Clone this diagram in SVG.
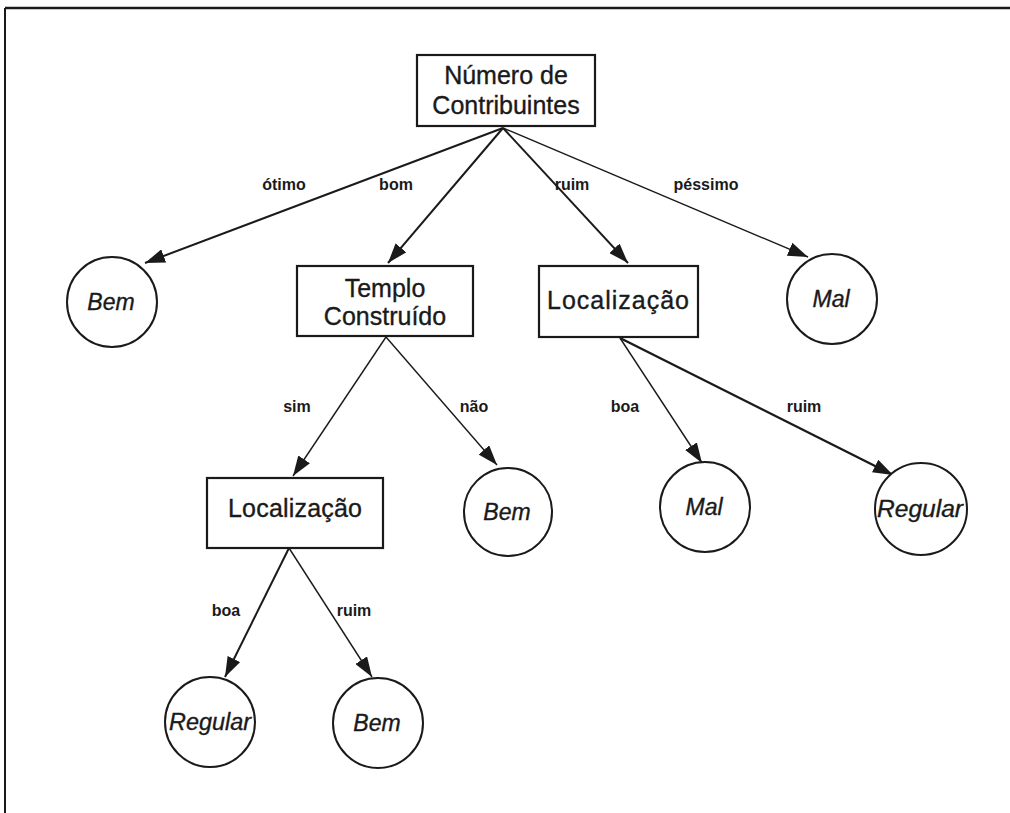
<svg xmlns="http://www.w3.org/2000/svg" width="1010" height="813" viewBox="0 0 1010 813">
<style>
.box{fill:#fff;stroke:#1a1a1a;stroke-width:2.2}
.leaf{fill:#fff;stroke:#1a1a1a;stroke-width:2}
.nt{font-family:"Liberation Sans",Arial,sans-serif;font-size:25px;fill:#1a1a1a;stroke:#1a1a1a;stroke-width:0.35;text-anchor:middle}
.lt{font-family:"Liberation Sans",Arial,sans-serif;font-size:23px;font-style:italic;fill:#1a1a1a;stroke:#1a1a1a;stroke-width:0.35;text-anchor:middle}
.el{font-family:"Liberation Sans",Arial,sans-serif;font-size:16px;font-weight:bold;fill:#1a1a1a;text-anchor:middle}
.e{stroke:#1a1a1a;stroke-width:2;fill:none;marker-end:url(#ah)}
.thin{stroke-width:1.4}
</style>
<defs>
<marker id="ah" markerUnits="userSpaceOnUse" markerWidth="20" markerHeight="14" viewBox="0 0 20 14" refX="20" refY="7" orient="auto">
<path d="M0,0 L20,7 L0,14 Z" fill="#1a1a1a"/>
</marker>
</defs>
<rect width="1010" height="813" fill="#fff"/>
<g id="frame">
<line x1="5" y1="8" x2="1010" y2="8" stroke="#1a1a1a" stroke-width="2.5"/>
<line x1="5" y1="8" x2="5" y2="813" stroke="#1a1a1a" stroke-width="2"/>
</g>
<g id="connectors">
<line class="e" x1="503" y1="128" x2="145" y2="263"/>
<line class="e" x1="503" y1="128" x2="388" y2="263"/>
<line class="e" x1="503" y1="128" x2="628" y2="263"/>
<line class="e thin" x1="503" y1="128" x2="808" y2="257"/>
<line class="e thin" x1="386" y1="337" x2="293" y2="476"/>
<line class="e thin" x1="386" y1="337" x2="497" y2="465"/>
<line class="e thin" x1="620" y1="338" x2="702" y2="463"/>
<line class="e" style="stroke-width:2.4" x1="620" y1="338" x2="893" y2="475"/>
<line class="e" x1="289" y1="548" x2="225" y2="677"/>
<line class="e thin" x1="289" y1="548" x2="372" y2="677"/>
<text class="el" x="284" y="190">ótimo</text>
<text class="el" x="396" y="190">bom</text>
<text class="el" x="572" y="190">ruim</text>
<text class="el" x="706" y="190">péssimo</text>
<text class="el" x="297" y="412">sim</text>
<text class="el" x="474" y="412">não</text>
<text class="el" x="625" y="412">boa</text>
<text class="el" x="804" y="412">ruim</text>
<text class="el" x="226" y="616">boa</text>
<text class="el" x="354" y="616">ruim</text>
</g>
<g id="n-root">
<rect class="box" x="417" y="55" width="178" height="71"/>
<text class="nt" x="506" y="84">Número de</text>
<text class="nt" x="506" y="114">Contribuintes</text>
</g>
<g id="n-bem1">
<circle class="leaf" cx="112" cy="302" r="45"/>
<text class="lt" x="111" y="310">Bem</text>
</g>
<g id="n-templo">
<rect class="box" x="297" y="266" width="176" height="70"/>
<text class="nt" x="385" y="297">Templo</text>
<text class="nt" x="385" y="325">Construído</text>
</g>
<g id="n-loc1">
<rect class="box" x="539" y="266" width="159" height="71"/>
<text class="nt" x="618" y="309" textLength="142" lengthAdjust="spacing">Localização</text>
</g>
<g id="n-mal1">
<circle class="leaf" cx="832" cy="299" r="45"/>
<text class="lt" x="831" y="307">Mal</text>
</g>
<g id="n-loc2">
<rect class="box" x="207" y="478" width="176" height="70"/>
<text class="nt" x="295" y="517" textLength="134" lengthAdjust="spacing">Localização</text>
</g>
<g id="n-bem2">
<circle class="leaf" cx="508" cy="512" r="44"/>
<text class="lt" x="507" y="520">Bem</text>
</g>
<g id="n-mal2">
<circle class="leaf" cx="705" cy="507" r="45"/>
<text class="lt" x="704" y="515">Mal</text>
</g>
<g id="n-reg1">
<circle class="leaf" cx="921" cy="509" r="46"/>
<text class="lt" x="920" y="517" textLength="86" lengthAdjust="spacingAndGlyphs">Regular</text>
</g>
<g id="n-reg2">
<circle class="leaf" cx="210" cy="722" r="45"/>
<text class="lt" x="210" y="730" textLength="82" lengthAdjust="spacingAndGlyphs">Regular</text>
</g>
<g id="n-bem3">
<circle class="leaf" cx="378" cy="723" r="45"/>
<text class="lt" x="377" y="731">Bem</text>
</g>
</svg>
